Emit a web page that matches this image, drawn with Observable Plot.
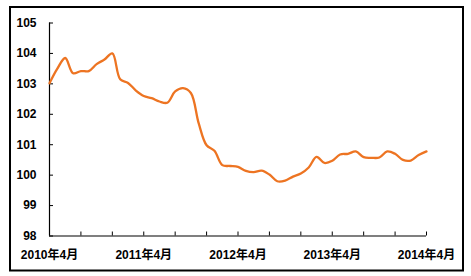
<!DOCTYPE html>
<html>
<head>
<meta charset="utf-8">
<script src="https://cdn.jsdelivr.net/npm/d3@7"></script>
<script src="https://cdn.jsdelivr.net/npm/@observablehq/plot@0.6"></script>
<style>
  html, body { margin: 0; padding: 0; background: #fff; }
  #chart svg { display: block; }
</style>
</head>
<body>
<div id="chart"></div>
<script>
// Monthly index, April 2010 (0) to April 2014 (48)
const months = d3.range(0, 49);
const values = [
  103.02, 103.5, 103.85, 103.35, 103.42, 103.42, 103.65, 103.8, 104.0, 103.15,
  103.03, 102.78, 102.6, 102.53, 102.42, 102.38, 102.75, 102.86, 102.7, 101.7,
  100.98, 100.8, 100.33, 100.3, 100.27, 100.14, 100.1, 100.15, 100.02, 99.8,
  99.82, 99.95, 100.05, 100.25, 100.6, 100.4, 100.47, 100.68, 100.7, 100.78,
  100.59, 100.57, 100.58, 100.78, 100.7, 100.5, 100.48, 100.66, 100.78
];
const xLabelTicks = [0, 12, 24, 36, 48];
const xLabels = ["2010年4月", "2011年4月", "2012年4月", "2013年4月", "2014年4月"];
const xMinorTicks = d3.range(0, 49, 4);
const yTicks = [98, 99, 100, 101, 102, 103, 104, 105];

const data = months.map((m, i) => ({month: m, value: values[i]}));

const W = 471, H = 276;
const mL = 49, mR = 45, mT = 22.5, mB = 40.5;
const plotW = W - mL - mR, plotH = H - mT - mB;

const chart = Plot.plot({
  width: W,
  height: H,
  marginLeft: mL,
  marginRight: mR,
  marginTop: mT,
  marginBottom: mB,
  style: {fontFamily: "'Liberation Sans', Arial, 'Noto Sans CJK SC', sans-serif", fontSize: "12px", fontWeight: "bold", color: "#000", background: "#fff"},
  x: {domain: [0, 48]},
  y: {domain: [98, 105]},
  marks: [
    Plot.frame({stroke: "#000", strokeWidth: 2, insetLeft: -39.5, insetRight: -36.5, insetTop: -16, insetBottom: -34.5}),
    Plot.axisY({ticks: yTicks, tickSize: 0, tickPadding: 13, label: null, tickFormat: d3.format("d"), fontWeight: "bold", fontSize: 12}),
    Plot.axisX({ticks: xLabelTicks, tickSize: 0, tickPadding: 14, label: null, tickFormat: (d) => xLabels[xLabelTicks.indexOf(d)], fontWeight: "bold", fontSize: 12}),
    Plot.tickX(xMinorTicks, {x: (d) => d, stroke: "#000", insetTop: plotH - 4}),
    Plot.tickY(yTicks, {y: (d) => d, stroke: "#000", insetRight: plotW - 4}),
    Plot.ruleX([0], {stroke: "#000", strokeWidth: 1.2}),
    Plot.ruleY([98], {stroke: "#000", strokeWidth: 1.2}),
    Plot.line(data, {x: "month", y: "value", stroke: "#ED7422", strokeWidth: 2.3, curve: "catmull-rom"})
  ]
});
document.getElementById("chart").appendChild(chart);
</script>
</body>
</html>
